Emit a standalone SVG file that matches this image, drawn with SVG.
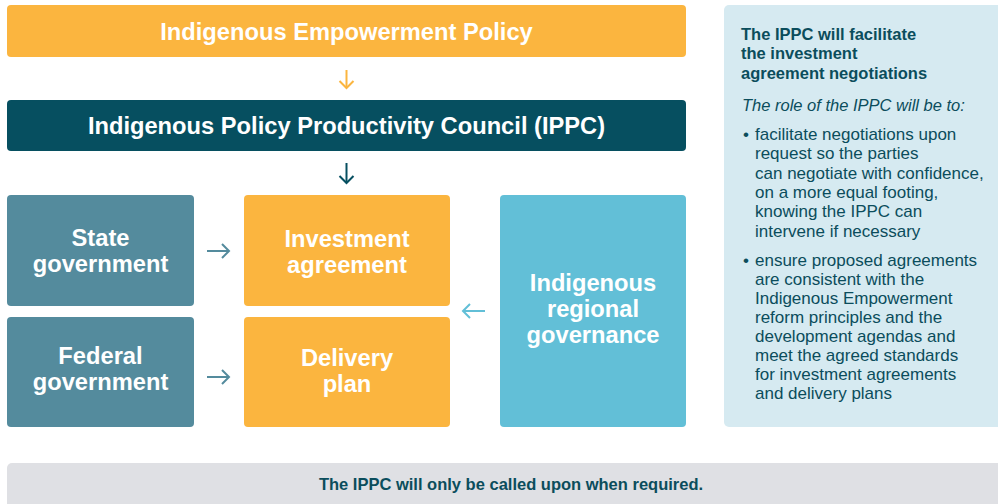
<svg xmlns="http://www.w3.org/2000/svg" width="998" height="504" viewBox="0 0 998 504">
<style>
.box{stroke:none}
.org{fill:#fbb53f}
.dark{fill:#064f60}
.steel{fill:#548b9d}
.lblue{fill:#62bfd7}
.t{font-family:"Liberation Sans",Arial,sans-serif;font-weight:bold;font-size:23.7px;fill:#ffffff;text-anchor:middle}
.ph{font-family:"Liberation Sans",Arial,sans-serif;font-weight:bold;font-size:16.5px;fill:#0b4d5c}
.pi{font-family:"Liberation Sans",Arial,sans-serif;font-style:italic;font-size:16.5px;fill:#0b4d5c}
.pb{font-family:"Liberation Sans",Arial,sans-serif;font-size:17px;fill:#0b4d5c}
.conn{fill:none;stroke-width:2}
</style>
<defs>
<marker id="hOrg" markerUnits="userSpaceOnUse" markerWidth="20" markerHeight="20" refX="10" refY="10" orient="auto">
<path d="M3,3 L10,10 L3,17" fill="none" stroke="#fbb53f" stroke-width="2"/>
</marker>
<marker id="hDark" markerUnits="userSpaceOnUse" markerWidth="20" markerHeight="20" refX="10" refY="10" orient="auto">
<path d="M3,3 L10,10 L3,17" fill="none" stroke="#064f60" stroke-width="2"/>
</marker>
<marker id="hSteel" markerUnits="userSpaceOnUse" markerWidth="20" markerHeight="20" refX="10" refY="10" orient="auto">
<path d="M3,3 L10,10 L3,17" fill="none" stroke="#548b9d" stroke-width="2"/>
</marker>
<marker id="hLblue" markerUnits="userSpaceOnUse" markerWidth="20" markerHeight="20" refX="10" refY="10" orient="auto">
<path d="M3,3 L10,10 L3,17" fill="none" stroke="#62bfd7" stroke-width="2"/>
</marker>
</defs>
<rect width="998" height="504" fill="#ffffff"/>

<g id="policy">
<rect class="box org" x="7" y="5" width="679" height="52" rx="4"/>
<text class="t" x="346.5" y="40">Indigenous Empowerment Policy</text>
</g>
<g id="ippc">
<rect class="box dark" x="7" y="100" width="679" height="51" rx="4"/>
<text class="t" x="346.5" y="134">Indigenous Policy Productivity Council (IPPC)</text>
</g>
<g id="state">
<rect class="box steel" x="7" y="195" width="187" height="111" rx="4"/>
<text class="t" x="100.5" y="246">State</text>
<text class="t" x="100.5" y="272">government</text>
</g>
<g id="federal">
<rect class="box steel" x="7" y="317" width="187" height="110" rx="4"/>
<text class="t" x="100.5" y="364">Federal</text>
<text class="t" x="100.5" y="390">government</text>
</g>
<g id="investment">
<rect class="box org" x="244" y="195" width="206" height="111" rx="4"/>
<text class="t" x="347" y="247">Investment</text>
<text class="t" x="347" y="273">agreement</text>
</g>
<g id="delivery">
<rect class="box org" x="244" y="317" width="206" height="110" rx="4"/>
<text class="t" x="347" y="366">Delivery</text>
<text class="t" x="347" y="392">plan</text>
</g>
<g id="regional">
<rect class="box lblue" x="500" y="195" width="186" height="232" rx="4"/>
<text class="t" x="593" y="291">Indigenous</text>
<text class="t" x="593" y="317">regional</text>
<text class="t" x="593" y="343">governance</text>
</g>

<g id="connectors">
<line class="conn" x1="346.5" y1="70" x2="346.5" y2="88" stroke="#fbb53f" marker-end="url(#hOrg)"/>
<line class="conn" x1="346.5" y1="163" x2="346.5" y2="183" stroke="#064f60" marker-end="url(#hDark)"/>
<line class="conn" x1="207" y1="251" x2="229" y2="251" stroke="#548b9d" marker-end="url(#hSteel)"/>
<line class="conn" x1="207" y1="377" x2="229" y2="377" stroke="#548b9d" marker-end="url(#hSteel)"/>
<line class="conn" x1="485" y1="311" x2="463" y2="311" stroke="#62bfd7" marker-end="url(#hLblue)"/>
</g>

<g id="panel">
<rect x="724" y="5" width="290" height="422" rx="5" fill="#d6eaf1"/>
<text class="ph" x="741" y="40">The IPPC will facilitate</text>
<text class="ph" x="741" y="59">the investment</text>
<text class="ph" x="741" y="79">agreement negotiations</text>
<text class="pi" x="742" y="111">The role of the IPPC will be to:</text>
<text class="pb" x="743" y="140">•</text>
<text class="pb" x="755" y="140">facilitate negotiations upon</text>
<text class="pb" x="755" y="159">request so the parties</text>
<text class="pb" x="755" y="179">can negotiate with confidence,</text>
<text class="pb" x="755" y="198">on a more equal footing,</text>
<text class="pb" x="755" y="217">knowing the IPPC can</text>
<text class="pb" x="755" y="237">intervene if necessary</text>
<text class="pb" x="743" y="266">•</text>
<text class="pb" x="755" y="266">ensure proposed agreements</text>
<text class="pb" x="755" y="285">are consistent with the</text>
<text class="pb" x="755" y="304">Indigenous Empowerment</text>
<text class="pb" x="755" y="323">reform principles and the</text>
<text class="pb" x="755" y="342">development agendas and</text>
<text class="pb" x="755" y="361">meet the agreed standards</text>
<text class="pb" x="755" y="380">for investment agreements</text>
<text class="pb" x="755" y="399">and delivery plans</text>
</g>

<g id="footer">
<rect x="7" y="463" width="1000" height="50" rx="5" fill="#dfe0e4"/>
<text class="ph" x="511" y="490" text-anchor="middle">The IPPC will only be called upon when required.</text>
</g>
</svg>
